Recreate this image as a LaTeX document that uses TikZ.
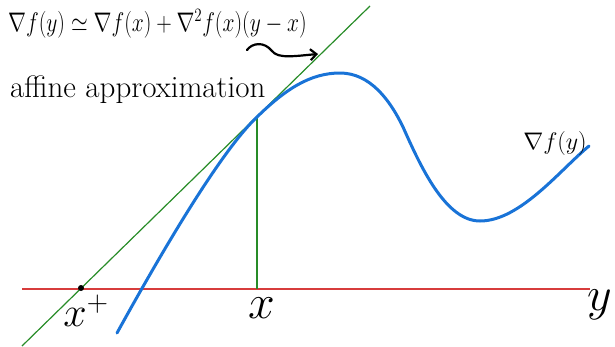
\RequirePackage{fix-cm}
\documentclass[tikz,border=0pt]{standalone}
\usepackage{fontspec}
\usepackage{amsmath,amssymb}
\usetikzlibrary{arrows.meta}
\definecolor{tgreen}{RGB}{40,140,40}
\definecolor{tblue}{RGB}{25,115,215}
\definecolor{tred}{RGB}{215,60,60}
\tikzset{
  greenline/.style={draw=tgreen, line width=1.2pt},
  redline/.style={draw=tred, line width=1.5pt},
  bluecurve/.style={draw=tblue, line width=3pt, line cap=round},
  lbl/.style={inner sep=0pt, text=black},
}
\begin{document}
\begin{tikzpicture}[x=1pt,y=-1pt]
\useasboundingbox (0,0) rectangle (615,346);
% coordinates
\coordinate (gA) at (22,346);
\coordinate (gB) at (370,6);
\coordinate (tp) at (257,117);
\coordinate (foot) at (257,289);
\coordinate (rA) at (22,289);
\coordinate (rB) at (590,289);
% axis
\draw[redline] (rA) -- (rB);
% tangent line and vertical
\draw[greenline] (gA) -- (gB);
\draw[greenline] (tp) -- (foot);
% curve
\draw[bluecurve] (117,333) .. controls (160,255) and (220,152) .. (tp)
  .. controls (285,89.6) and (310,73) .. (340,73)
  .. controls (370,73) and (390,100) .. (403,127)
  .. controls (420,165) and (445,221) .. (480,221)
  .. controls (520,221) and (560,170) .. (589,146);
% x+ point
\fill (81,288) circle (3pt) coordinate (xplus);
% labels
\node[lbl, anchor=center] (lxp) at (86,311) {\fontsize{42}{44}\selectfont$x^{+}$};
\node[lbl, anchor=center] (lx) at (262,308) {\fontsize{48}{50}\selectfont$x$};
\node[lbl, anchor=center] (ly) at (600,305) {\fontsize{48}{50}\selectfont$y$};
\node[lbl, anchor=center] (lgrad) at (555,143) {\fontsize{24}{26}\selectfont$\nabla f(y)$};
\node[lbl, anchor=west] (formula) at (8,24) {\scalebox{1}[1.25]{\fontsize{21.5}{24}\selectfont$\nabla f(y)\simeq\nabla f(x)+\nabla^2 f(x)(y-x)$}};
\node[lbl, anchor=west] (affine) at (10,90) {\fontsize{31}{34}\selectfont affine approximation};
% squiggle arrow
\coordinate (sqA) at (247,50);
\coordinate (sqB) at (318,54);
\draw[line width=2.2pt, line cap=round, -{Straight Barb[length=6pt,width=11pt]}]
  (sqA) .. controls (252,43) and (264,41) .. (272,51)
  .. controls (278,59) and (295,56) .. (sqB);
\end{tikzpicture}
\end{document}
